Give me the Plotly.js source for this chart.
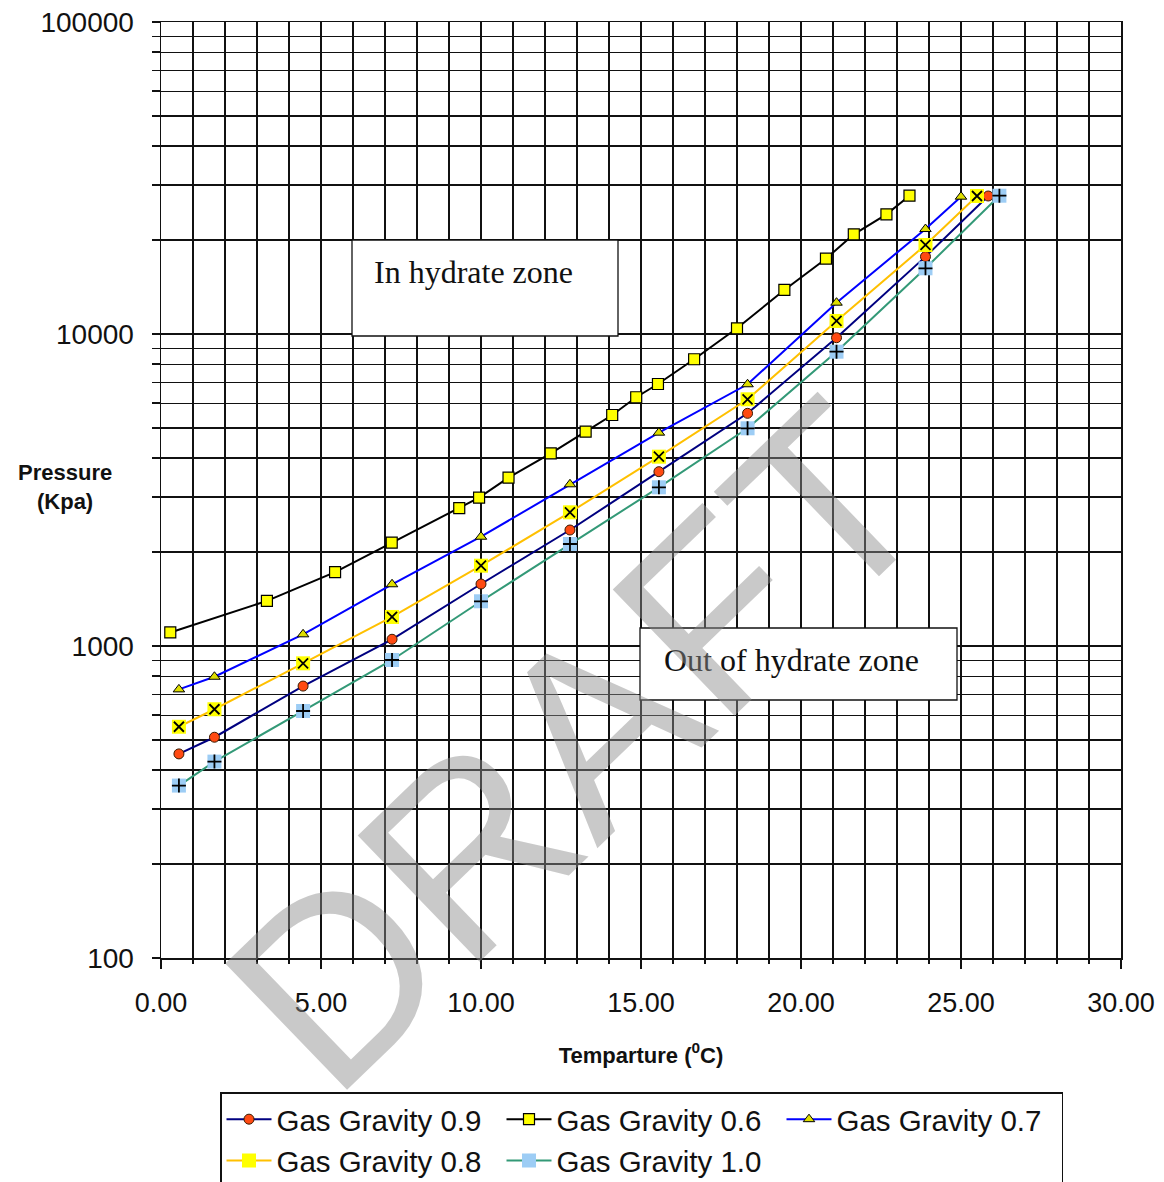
<!DOCTYPE html>
<html>
<head>
<meta charset="utf-8">
<script src="https://cdn.plot.ly/plotly-3.0.1.min.js"></script>
<style>
  html, body { margin: 0; padding: 0; background: #fff; }
  #chart { width: 1164px; height: 1182px; }
</style>
</head>
<body>
<div id="chart"></div>
<script>
// ---- data ----
const seriesNames = ["Gas Gravity 0.9", "Gas Gravity 0.6", "Gas Gravity 0.7", "Gas Gravity 0.8", "Gas Gravity 1.0"];

const temp06 = [0.29, 3.31, 5.44, 7.21, 9.32, 9.94, 10.86, 12.18, 13.27, 14.10, 14.85, 15.53, 16.66, 18.00, 19.48, 20.78, 21.65, 22.67, 23.39];
const pres06 = [1105, 1395, 1725, 2145, 2765, 2990, 3465, 4145, 4865, 5500, 6270, 6915, 8300, 10430, 13840, 17430, 20870, 24190, 27750];

const temp07 = [0.56, 1.67, 4.44, 7.22, 10.00, 12.78, 15.56, 18.33, 21.11, 23.89, 25.00];
const pres07 = [726, 797, 1090, 1577, 2240, 3298, 4828, 6900, 12600, 21700, 27550];

const temp08 = [0.56, 1.67, 4.44, 7.22, 10.00, 12.78, 15.56, 18.33, 21.11, 23.89, 25.50];
const pres08 = [551, 627, 880, 1239, 1809, 2682, 4044, 6176, 11010, 19290, 27690];

const temp09 = [0.56, 1.67, 4.44, 7.22, 10.00, 12.78, 15.56, 18.33, 21.11, 23.89, 25.85];
const pres09 = [451, 510, 744, 1051, 1580, 2354, 3620, 5569, 9730, 17700, 27690];

const temp10 = [0.56, 1.67, 4.44, 7.22, 10.00, 12.78, 15.56, 18.33, 21.11, 23.89, 26.20];
const pres10 = [357, 426, 619, 902, 1391, 2123, 3226, 4986, 8776, 16240, 27750];

const yTickVals = [100, 1000, 10000, 100000];
const yTickText = ["100", "1000", "10000", "100000"];
const yMinorVals = [200, 300, 400, 500, 600, 700, 800, 900,
                    2000, 3000, 4000, 5000, 6000, 7000, 8000, 9000,
                    20000, 30000, 40000, 50000, 60000, 70000, 80000, 90000];

const xTitle = "Temparture (<sup>0</sup>C)";
const yTitle = "Pressure<br>(Kpa)";
const boxText1 = "In hydrate zone";
const boxText2 = "Out of hydrate zone";
const watermark = "DRAFT";

// ---- styling ----
const SANS = "Liberation Sans, Arial, sans-serif";
const SERIF = "Liberation Serif, Times New Roman, serif";

const traces = [
  { name: seriesNames[0], x: temp09, y: pres09, mode: "lines+markers",
    line: { color: "#000080", width: 2 },
    marker: { symbol: "circle", size: 10, color: "#ff4a12", line: { color: "#3a1a00", width: 1 } } },
  { name: seriesNames[1], x: temp06, y: pres06, mode: "lines+markers",
    line: { color: "#000000", width: 2 },
    marker: { symbol: "square", size: 11, color: "#ffff00", line: { color: "#000", width: 1.2 } } },
  { name: seriesNames[2], x: temp07, y: pres07, mode: "lines+markers",
    line: { color: "#0000ff", width: 2 },
    marker: { symbol: "triangle-up", size: 10, color: "#dede00", line: { color: "#000", width: 1 } } },
  { name: seriesNames[3], x: temp08, y: pres08, mode: "lines+markers", legendgroup: "g08",
    line: { color: "#ffc000", width: 2 },
    marker: { symbol: "square", size: 14, color: "#ffff00", line: { width: 0 } } },
  { name: seriesNames[3], x: temp08, y: pres08, mode: "markers", legendgroup: "g08", showlegend: false, hoverinfo: "skip",
    marker: { symbol: "x-thin-open", size: 10, color: "#000", line: { color: "#000", width: 1.8 } } },
  { name: seriesNames[4], x: temp10, y: pres10, mode: "lines+markers", legendgroup: "g10",
    line: { color: "#339977", width: 2 },
    marker: { symbol: "square", size: 14, color: "#9dcdf5", line: { width: 0 } } },
  { name: seriesNames[4], x: temp10, y: pres10, mode: "markers", legendgroup: "g10", showlegend: false, hoverinfo: "skip",
    marker: { symbol: "cross-thin-open", size: 10, color: "#000", line: { color: "#000", width: 1.8 } } }
];

const L = 161, R = 43, T = 22, B = 224, W = 1164, H = 1182;
const pw = W - L - R, ph = H - T - B;
const px = v => (v - L) / pw;
const py = v => (H - B - v) / ph;

const layout = {
  width: W, height: H,
  margin: { l: L, r: R, t: T, b: B, autoexpand: false },
  paper_bgcolor: "#fff", plot_bgcolor: "#fff",
  showlegend: true,
  font: { family: SANS, color: "#111" },
  xaxis: {
    range: [0, 30], tickmode: "linear", tick0: 0, dtick: 5, tickformat: ".2f",
    showgrid: true, gridcolor: "#111", gridwidth: 1.4,
    ticks: "outside", ticklen: 9, tickwidth: 1.5, tickcolor: "#111",
    showline: true, linecolor: "#111", linewidth: 1.5, mirror: true, zeroline: false,
    tickfont: { size: 27, family: SANS, color: "#111" },
    ticklabelstandoff: 11, automargin: false,
    minor: { dtick: 1, showgrid: true, gridcolor: "#111", gridwidth: 1.4, ticks: "outside", ticklen: 4, tickcolor: "#111" },
    title: { text: xTitle, font: { size: 22, family: SANS, color: "#111", weight: "bold" }, standoff: 30 }
  },
  yaxis: {
    type: "log", range: [2, 5], tickmode: "array", tickvals: yTickVals, ticktext: yTickText,
    showgrid: true, gridcolor: "#111", gridwidth: 1.4,
    ticks: "outside", ticklen: 8, tickwidth: 1.5, tickcolor: "#111",
    showline: true, linecolor: "#111", linewidth: 1.5, mirror: true, zeroline: false,
    tickfont: { size: 28, family: SANS, color: "#111" },
    ticklabelstandoff: 12, automargin: false,
    minor: { tickmode: "array", tickvals: yMinorVals, showgrid: true, gridcolor: "#111", gridwidth: 1.4,
             ticks: "outside", ticklen: 8, tickcolor: "#111" }
  },
  legend: {
    orientation: "h", x: px(220), y: py(1092), xanchor: "left", yanchor: "top",
    bgcolor: "#fff", bordercolor: "#111", borderwidth: 1.5,
    font: { size: 29.5, family: SANS, color: "#111" },
    itemwidth: 45, entrywidth: 220, entrywidthmode: "pixels", traceorder: "normal"
  },
  shapes: [
    { type: "rect", xref: "paper", yref: "paper", x0: px(352), x1: px(618), y0: py(336), y1: py(240),
      fillcolor: "#fff", line: { color: "#111", width: 1.3 }, layer: "above" },
    { type: "rect", xref: "paper", yref: "paper", x0: px(640), x1: px(957), y0: py(700), y1: py(628),
      fillcolor: "#fff", line: { color: "#111", width: 1.3 }, layer: "above" }
  ],
  annotations: [
    { text: boxText1, xref: "paper", yref: "paper", x: px(372), y: py(272), xanchor: "left", yanchor: "middle",
      showarrow: false, font: { family: SERIF, size: 32, color: "#111" } },
    { text: boxText2, xref: "paper", yref: "paper", x: px(662), y: py(660), xanchor: "left", yanchor: "middle",
      showarrow: false, font: { family: SERIF, size: 32, color: "#111" } },
    { text: yTitle, xref: "paper", yref: "paper", x: px(65), y: py(487), xanchor: "center", yanchor: "middle",
      showarrow: false, align: "center", font: { family: SANS, size: 22, color: "#111", weight: "bold" } },
    { text: watermark, xref: "paper", yref: "paper", x: px(576), y: py(745), xanchor: "center", yanchor: "middle",
      showarrow: false, textangle: -44, font: { family: SANS, size: 255, color: "rgba(140,140,140,0.47)" } }
  ]
};

Plotly.newPlot("chart", traces, layout, { staticPlot: true, displayModeBar: false });
</script>
</body>
</html>
